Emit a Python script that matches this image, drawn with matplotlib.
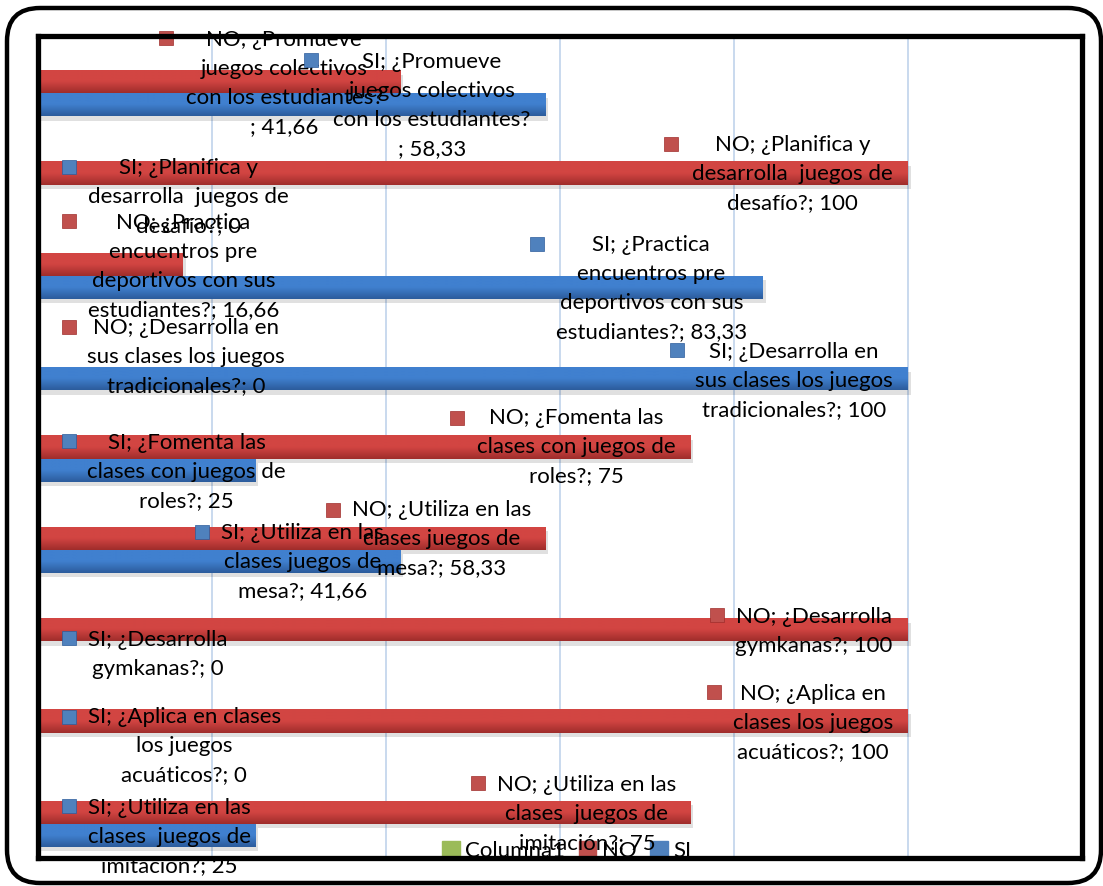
import numpy as np
import matplotlib
matplotlib.use("Agg")
import matplotlib.pyplot as plt
from matplotlib.patches import FancyBboxPatch, Patch
from matplotlib.colors import LinearSegmentedColormap

# preguntas de la encuesta (de arriba hacia abajo)
categorias = [
    "¿Promueve juegos colectivos con los estudiantes?",
    "¿Planifica y desarrolla  juegos de desafío?",
    "¿Practica encuentros pre deportivos con sus estudiantes?",
    "¿Desarrolla en sus clases los juegos tradicionales?",
    "¿Fomenta las clases con juegos de roles?",
    "¿Utiliza en las clases juegos de mesa?",
    "¿Desarrolla gymkanas?",
    "¿Aplica en clases los juegos acuáticos?",
    "¿Utiliza en las clases  juegos de imitación?",
]
valores_no = [41.66, 100, 16.66, 0, 75, 58.33, 100, 100, 75]
valores_si = [58.33, 0, 83.33, 100, 25, 41.66, 0, 0, 25]
series = ["Columna1", "NO", "SI"]

# cortes de linea de cada etiqueta
cortes_no = [
    "¿Promueve\njuegos colectivos\ncon los estudiantes?\n",
    "¿Planifica y\ndesarrolla  juegos de\ndesafío?",
    "¿Practica\nencuentros pre\ndeportivos con sus\nestudiantes?",
    "¿Desarrolla en\nsus clases los juegos\ntradicionales?",
    "¿Fomenta las\nclases con juegos de\nroles?",
    "¿Utiliza en las\nclases juegos de\nmesa?",
    "¿Desarrolla\ngymkanas?",
    "¿Aplica en\nclases los juegos\nacuáticos?",
    "¿Utiliza en las\nclases  juegos de\nimitación?",
]
cortes_si = list(cortes_no)
cortes_si[7] = "¿Aplica en clases\nlos juegos\nacuáticos?"

# posicion de las etiquetas: (x centro, y primera linea, x cuadro, y cuadro)
pos_no = [(28.3, -0.456, 14.7, -0.478), (86.7, 0.693, 72.8, 0.683),
          (16.7, 1.548, 3.6, 1.526), (17.0, 2.697, 3.6, 2.686),
          (61.9, 3.683, 48.2, 3.683), (46.4, 4.690, 33.9, 4.690),
          (89.2, 5.862, 78.0, 5.840), (89.1, 6.705, 77.7, 6.683),
          (63.1, 7.701, 50.6, 7.679)]
pos_si = [(45.3, -0.215, 31.4, -0.237), (17.3, 0.945, 3.6, 0.934),
          (70.5, 1.788, 57.3, 1.777), (86.9, 2.960, 73.4, 2.938),
          (17.1, 3.956, 3.6, 3.934), (30.4, 4.942, 18.9, 4.931),
          (13.8, 6.114, 3.6, 6.092), (16.8, 6.957, 3.6, 6.957),
          (15.1, 7.953, 3.6, 7.931)]

rojo = ("#d24542", "#9f2d2b", "#c0504d")
azul = ("#4080cf", "#2c5c9c", "#4f81bd")
verde = "#9bbb59"

plt.rcParams["font.family"] = ["Lato", "DejaVu Sans"]
W, H = 1103, 886
fig = plt.figure(figsize=(W / 100, H / 100), dpi=100)
ax = fig.add_axes([38 / W, 1 - 858 / H, (1082 - 38) / W, (858 - 36) / H])

y = np.arange(len(categorias))
alto = 0.252

def barras_degradado(vals, offset, cols):
    cmap = LinearSegmentedColormap.from_list("g", [cols[0], cols[0], cols[1]])
    grad = np.linspace(0, 1, 64).reshape(-1, 1)
    bars = ax.barh(y + offset, vals, height=alto, color=cols[1], zorder=2)
    for b in bars:
        x0, y0 = b.get_x(), b.get_y()
        w, h = b.get_width(), b.get_height()
        if w <= 0:
            continue
        # sombra suave
        ax.barh(y0 + h / 2 + 0.05, w + 0.3, height=h, left=x0, color="#000000",
                alpha=0.12, zorder=1.5, linewidth=0)
        im = ax.imshow(grad, cmap=cmap, aspect="auto", origin="lower",
                       extent=(x0, x0 + w, y0, y0 + h), zorder=2.1)
        im.set_clip_path(b)
    return bars

barras_degradado(valores_no, 0, rojo)
barras_degradado(valores_si, alto, azul)

ax.set_xlim(0, 120)
ax.set_ylim(len(categorias) - 0.5, -0.5)
ax.set_xticks(np.arange(20, 120, 20))
ax.set_yticks([])
ax.tick_params(axis="x", length=0, labelbottom=False)
ax.grid(axis="x", color="#c9d9ee", linewidth=1.4, zorder=0.5)
ax.set_axisbelow(True)
for s in ax.spines.values():
    s.set_linewidth(3.8)
    s.set_color("black")
    s.set_zorder(10)

def fmt(v):
    return f"{v:g}".replace(".", ",")

dy = 0.319
for serie, vals, cortes, pos, cols in [("NO", valores_no, cortes_no, pos_no, rojo),
                                       ("SI", valores_si, cortes_si, pos_si, azul)]:
    for v, c, (cx, cy, mx, my) in zip(vals, cortes, pos):
        texto = f"{serie}; {c}; {fmt(v)}"
        for j, linea in enumerate(texto.split("\n")):
            ax.text(cx, cy + j * dy, linea, ha="center", va="center",
                    fontsize=16, color="black", zorder=5, clip_on=False)
        ax.plot(mx, my, "s", ms=10, color=cols[2], mec=cols[1], mew=0.5,
                zorder=5, clip_on=False)

handles = [Patch(color=verde), Patch(color=rojo[2]), Patch(color=azul[2])]
leg = ax.legend(handles, series, loc="center left", ncol=3,
                bbox_to_anchor=(442 / W, 1 - 851 / H), bbox_transform=fig.transFigure,
                frameon=False, fontsize=16, handlelength=0.8, handleheight=0.8,
                handletextpad=0.25, columnspacing=0.6, borderpad=0, borderaxespad=0)
leg.set_zorder(4)

# marco exterior redondeado del grafico
marco = FancyBboxPatch((7 / W, 1 - 883 / H), (1101 - 7) / W, (883 - 8) / H,
                       boxstyle="round,pad=0,rounding_size=0.03",
                       mutation_aspect=W / H, transform=fig.transFigure,
                       fill=False, edgecolor="black", linewidth=3.2)
fig.patches.append(marco)

fig.savefig("out.png", dpi=100)
